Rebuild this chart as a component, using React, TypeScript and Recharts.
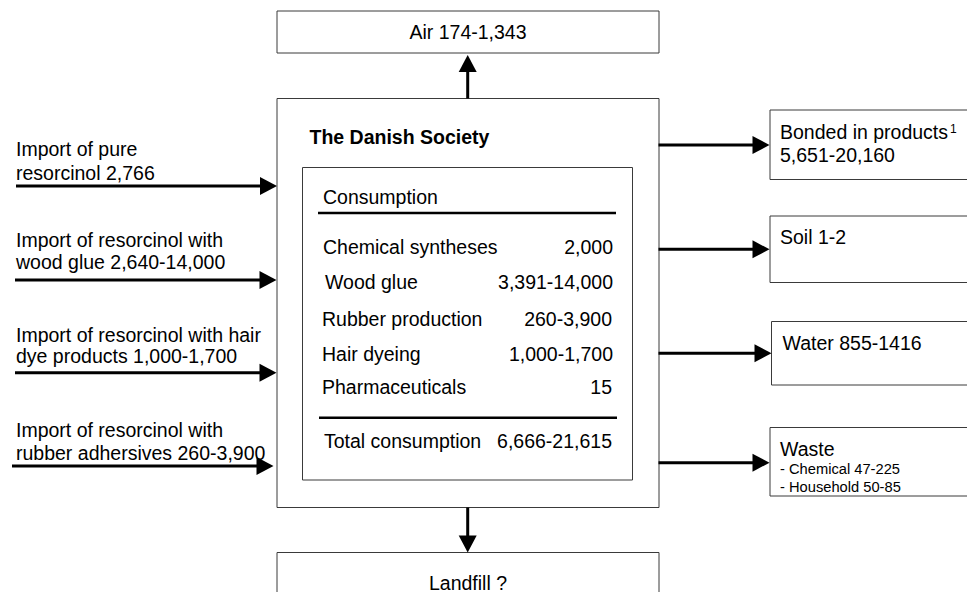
import React from 'react';
import { ScatterChart, Scatter, XAxis, YAxis, ReferenceArea, ReferenceLine } from 'recharts';

// ---------- content ----------
const importLines: string[][] = [
  ['Import of pure', 'resorcinol 2,766'],
  ['Import of resorcinol with', 'wood glue 2,640-14,000'],
  ['Import of resorcinol with hair', 'dye products 1,000-1,700'],
  ['Import of resorcinol with', 'rubber adhersives 260-3,900'],
];
const consumptionCategories = ['Chemical syntheses', 'Wood glue', 'Rubber production', 'Hair dyeing', 'Pharmaceuticals'];
const consumptionValues = ['2,000', '3,391-14,000', '260-3,900', '1,000-1,700', '15'];
const totalLabel = 'Total consumption';
const totalValue = '6,666-21,615';
const societyTitle = 'The Danish Society';
const consumptionTitle = 'Consumption';
const airLabel = 'Air 174-1,343';
const landfillLabel = 'Landfill ?';
const bondedLines = ['Bonded in products', '5,651-20,160'];
const bondedNote = '1';
const soilLabel = 'Soil 1-2';
const waterLabel = 'Water 855-1416';
const wasteTitle = 'Waste';
const wasteItems = ['- Chemical 47-225', '- Household 50-85'];

// ---------- layout ----------
const W = 967;
const H = 592;
const FONT = '"Liberation Sans", Arial, Helvetica, sans-serif';
const FS = 19.5;
const FS_SMALL = 14.7;

const importArrowY = [186, 280, 372.7, 466];
const importArrowX0 = [16, 15, 15, 12];
const importTipX = [277, 276.5, 276.5, 273.5];
const importBase = [[156, 180], [247, 269], [342, 363], [437, 460]];

const rowBase = [254, 289, 325.5, 360.5, 394];
const rowLabelX = [323, 325, 322, 322, 322];
const rowValueX = [613, 613, 612, 613, 612];

const outArrowY = [145, 249.3, 353.3, 462.7];
const outTipX = [769.5, 769.5, 771.5, 769.5];

type Box = { x1: number; x2: number; y1: number; y2: number };
const boxes: Box[] = [
  { x1: 277, x2: 659, y1: 11, y2: 53 }, // air
  { x1: 277, x2: 659, y1: 98.5, y2: 507.5 }, // society
  { x1: 302.5, x2: 632.5, y1: 167.5, y2: 480 }, // consumption
  { x1: 277, x2: 659, y1: 552.5, y2: 600 }, // landfill
  { x1: 770, x2: 975, y1: 110, y2: 179.5 }, // bonded
  { x1: 770, x2: 975, y1: 216, y2: 282.5 }, // soil
  { x1: 771.5, x2: 975, y1: 321.5, y2: 385 }, // water
  { x1: 770, x2: 975, y1: 427.5, y2: 496 }, // waste
];

type Seg = { a: [number, number]; b: [number, number]; w: number };
const HEAD = 17;
const segs: Seg[] = [];
type HeadPt = { x: number; y: number; dir: 'r' | 'u' | 'd' };
const heads: HeadPt[] = [];

importArrowY.forEach((y, i) => {
  segs.push({ a: [importArrowX0[i], y], b: [importTipX[i] - HEAD + 1, y], w: 3 });
  heads.push({ x: importTipX[i], y, dir: 'r' });
});
outArrowY.forEach((y, i) => {
  segs.push({ a: [658.5, y], b: [outTipX[i] - HEAD + 1, y], w: 3 });
  heads.push({ x: outTipX[i], y, dir: 'r' });
});
// up to air
segs.push({ a: [467.7, 98.5], b: [467.7, 55 + HEAD - 1], w: 3 });
heads.push({ x: 467.7, y: 55, dir: 'u' });
// down to landfill
segs.push({ a: [467.7, 507.5], b: [467.7, 552.5 - HEAD + 1], w: 3 });
heads.push({ x: 467.7, y: 552.5, dir: 'd' });

const rules: Seg[] = [
  { a: [318, 213], b: [616, 213], w: 2.5 },
  { a: [319, 417.7], b: [617, 417.7], w: 2.5 },
];

type T = { x: number; y: number; t: string; anchor?: 'start' | 'middle' | 'end'; size?: number; weight?: string };
const texts: T[] = [];
texts.push({ x: 468, y: 38.5, t: airLabel, anchor: 'middle' });
texts.push({ x: 468, y: 589.5, t: landfillLabel, anchor: 'middle' });
texts.push({ x: 309.5, y: 143.5, t: societyTitle, weight: 'bold' });
texts.push({ x: 323, y: 204, t: consumptionTitle });
consumptionCategories.forEach((c, i) => {
  texts.push({ x: rowLabelX[i], y: rowBase[i], t: c });
  texts.push({ x: rowValueX[i], y: rowBase[i], t: consumptionValues[i], anchor: 'end' });
});
texts.push({ x: 324, y: 447.5, t: totalLabel });
texts.push({ x: 612, y: 447.5, t: totalValue, anchor: 'end' });
importLines.forEach((lines, i) => {
  lines.forEach((l, j) => texts.push({ x: 16, y: importBase[i][j], t: l }));
});
texts.push({ x: 780, y: 138.5, t: bondedLines[0] });
texts.push({ x: 950, y: 132.5, t: bondedNote, size: 12 });
texts.push({ x: 780, y: 161.5, t: bondedLines[1] });
texts.push({ x: 780, y: 244, t: soilLabel });
texts.push({ x: 782.5, y: 350, t: waterLabel });
texts.push({ x: 780, y: 455.5, t: wasteTitle });
texts.push({ x: 780, y: 474, t: wasteItems[0], size: FS_SMALL });
texts.push({ x: 780, y: 491.5, t: wasteItems[1], size: FS_SMALL });

const HeadShape = (props: any) => {
  const { cx, cy, payload } = props;
  const L = HEAD;
  const hw = 9;
  let pts = '';
  if (payload.dir === 'r') pts = `${cx},${cy} ${cx - L},${cy - hw} ${cx - L},${cy + hw}`;
  else if (payload.dir === 'u') pts = `${cx},${cy} ${cx - hw},${cy + L} ${cx + hw},${cy + L}`;
  else pts = `${cx},${cy} ${cx - hw},${cy - L} ${cx + hw},${cy - L}`;
  return <polygon points={pts} fill="#000" stroke="none" />;
};

const TextShape = (props: any) => {
  const { cx, cy, payload } = props;
  return (
    <text
      x={cx}
      y={cy}
      textAnchor={payload.anchor || 'start'}
      fontSize={payload.size || FS}
      fontWeight={payload.weight || 'normal'}
      fontFamily={FONT}
      fill="#000"
    >
      {payload.t}
    </text>
  );
};

export default function App() {
  return (
    <div style={{ position: 'absolute', left: 0, top: 0, width: W, height: H, background: '#fff', overflow: 'hidden' }}>
      <ScatterChart width={W} height={H} margin={{ top: 0, right: 0, bottom: 0, left: 0 }}>
        <XAxis type="number" dataKey="x" domain={[0, W]} allowDataOverflow hide />
        <YAxis type="number" dataKey="y" domain={[0, H]} allowDataOverflow reversed hide />
        {boxes.map((b, i) => (
          <ReferenceArea
            key={`b${i}`}
            x1={b.x1}
            x2={b.x2}
            y1={b.y1}
            y2={b.y2}
            fill="none"
            fillOpacity={0}
            stroke="#3a3a3a"
            strokeWidth={1}
            ifOverflow="visible"
          />
        ))}
        {[...segs, ...rules].map((s, i) => (
          <ReferenceLine
            key={`s${i}`}
            segment={[{ x: s.a[0], y: s.a[1] }, { x: s.b[0], y: s.b[1] }]}
            stroke="#000"
            strokeWidth={s.w}
            ifOverflow="visible"
          />
        ))}
        <Scatter data={heads} shape={HeadShape} isAnimationActive={false} />
        <Scatter data={texts} shape={TextShape} isAnimationActive={false} />
      </ScatterChart>
    </div>
  );
}
